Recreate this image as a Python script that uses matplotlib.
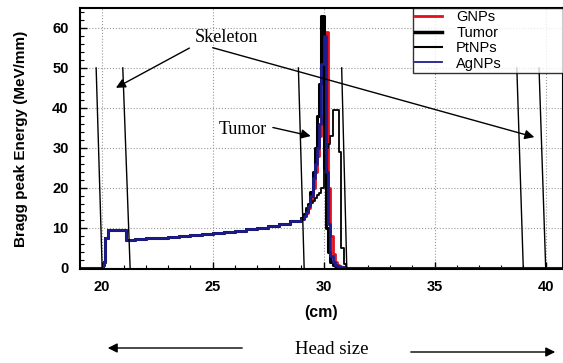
import matplotlib.pyplot as plt
import numpy as np

plt.rcParams['font.family'] = ['Liberation Sans', 'DejaVu Sans']

# common part of the curves (entrance, skeleton, plateau)
x_base = [19.0, 20.05, 20.1, 20.15, 20.3, 21.1, 21.5, 22.0, 22.5, 23.0, 23.5, 24.0,
          24.5, 25.0, 25.5, 26.0, 26.5, 27.0, 27.5, 28.0, 28.5]
y_base = [0.0, 0.8, 1.5, 7.5, 9.5, 7.0, 7.2, 7.4, 7.5, 7.7, 7.9, 8.1,
          8.4, 8.7, 9.0, 9.3, 9.6, 10.0, 10.4, 10.9, 11.6]

# Bragg peak region
x_peak = [29.0, 29.1, 29.2, 29.3, 29.4, 29.5, 29.6, 29.7, 29.8, 29.9, 30.0, 30.1,
          30.2, 30.3, 30.4, 30.5, 30.6, 30.7, 30.8, 30.9, 31.0, 40.8]
gnps   = [12.3, 13.0, 13.8, 15.0, 17.0, 20.0, 24.0, 28.0, 33.0, 38.0, 50.0, 59.0,
          20.0, 8.0, 3.5, 1.5, 0.8, 0.4, 0.2, 0.0, 0.0, 0.0]
tumor  = [12.5, 13.5, 14.5, 16.0, 19.0, 24.0, 30.0, 38.0, 46.0, 63.0, 25.0, 10.0,
          4.0, 1.5, 0.8, 0.4, 0.2, 0.0, 0.0, 0.0, 0.0, 0.0]
ptnps  = [12.5, 13.5, 15.0, 15.5, 16.2, 16.8, 17.5, 18.2, 18.7, 20.0, 26.0, 30.0,
          31.0, 33.0, 39.5, 39.5, 39.5, 29.0, 5.0, 1.0, 0.0, 0.0]
agnps  = [12.3, 13.0, 14.0, 15.5, 18.0, 22.5, 26.0, 30.0, 36.0, 51.0, 58.0, 24.0,
          11.0, 3.0, 1.5, 0.8, 0.4, 0.2, 0.1, 0.0, 0.0, 0.0]

# skeleton boundary lines (x at top, x at bottom)
skel_top = [19.75, 20.95, 28.86, 30.81, 38.7, 39.7]
skel_bot = [20.02, 21.28, 29.12, 31.04, 38.99, 40.0]

fig = plt.figure(figsize=(5.63, 3.63), dpi=100)
ax = fig.add_axes([0.1416, 0.259, 0.8584, 0.719])

xs = np.array(x_base + x_peak)
series = [('GNPs', gnps, '#e3101c', 2.0), ('Tumor', tumor, 'black', 2.2),
          ('PtNPs', ptnps, 'black', 1.3), ('AgNPs', agnps, '#1c1c8e', 2.0)]
for name, vals, col, lw in series:
    ys = np.array(y_base + vals)
    ax.plot(xs, ys, drawstyle='steps-post', color=col, lw=lw, label=name)

for xt, xb in zip(skel_top, skel_bot):
    ax.plot([xt, xb], [50, 0], color='black', lw=1.0)

ax.set_xlim(19.01, 40.78)
ax.set_ylim(-0.3, 65)
ax.set_xticks([20, 25, 30, 35, 40])
ax.set_yticks([0, 10, 20, 30, 40, 50, 60])
ax.set_xticks(np.arange(20, 41, 1), minor=True)
ax.set_yticks(np.arange(0, 65, 2), minor=True)
ax.tick_params(which='major', direction='in', length=5, width=1, pad=8)
ax.tick_params(which='minor', direction='in', length=3, width=0.8)
for lab in ax.get_xticklabels() + ax.get_yticklabels():
    lab.set_fontweight('bold')
    lab.set_fontsize(10.5)
ax.grid(True, which='major', linestyle=':', color='#999999', lw=0.8)
for s in ax.spines.values():
    s.set_linewidth(1.5)

ax.set_xlabel('(cm)', fontsize=11.5, fontweight='bold', labelpad=8)
ax.set_ylabel('Bragg peak Energy (MeV/mm)', fontsize=11, fontweight='bold', labelpad=17)

leg = ax.legend(loc='upper left', bbox_to_anchor=(0.69, 0, 0.35, 1.0), mode='expand',
                fontsize=10.5, frameon=True, fancybox=False, borderaxespad=0,
                handlelength=1.8, handletextpad=1.0, labelspacing=0.1, borderpad=0.15)
leg.get_frame().set_edgecolor('black')
leg.get_frame().set_linewidth(1.0)
for h, w in zip(leg.get_lines(), [2.0, 2.5, 1.5, 1.3]):
    h.set_linewidth(w)

serif = ['Liberation Serif', 'DejaVu Serif']
ax.text(25.6, 57.5, 'Skeleton', family=serif, fontsize=13, ha='center', va='center')
arr = dict(arrowstyle='-|>', color='black', lw=1.0, mutation_scale=14)
ax.annotate('', xy=(20.53, 44.7), xytext=(24.06, 55.3), arrowprops=arr)
ax.annotate('', xy=(39.61, 32.5), xytext=(24.88, 55.25), arrowprops=arr)
ax.text(26.37, 34.5, 'Tumor', family=serif, fontsize=13, ha='center', va='center')
ax.annotate('', xy=(29.54, 32.8), xytext=(27.59, 35.25), arrowprops=arr)

fig.text(332 / 563, 1 - 350 / 363, 'Head size', family=serif, fontsize=13.5,
         ha='center', va='center')
ax.annotate('', xy=(105 / 563, 1 - 348 / 363), xytext=(245 / 563, 1 - 348 / 363),
            xycoords='figure fraction', textcoords='figure fraction', arrowprops=arr)
ax.annotate('', xy=(558 / 563, 1 - 352 / 363), xytext=(408 / 563, 1 - 352 / 363),
            xycoords='figure fraction', textcoords='figure fraction', arrowprops=arr)

fig.savefig('out.png', dpi=100)
